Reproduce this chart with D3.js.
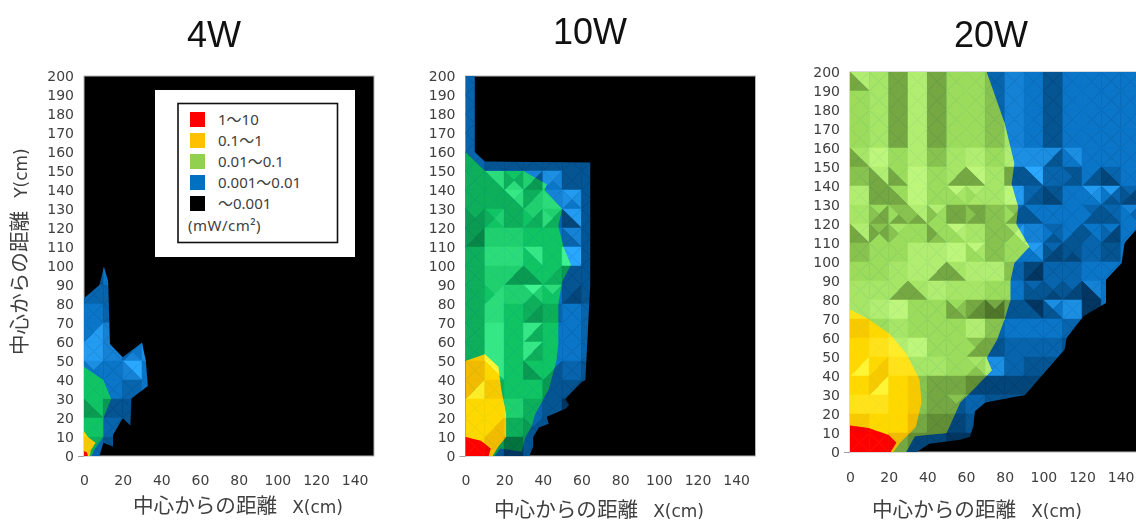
<!DOCTYPE html>
<html><head><meta charset="utf-8">
<script src="https://cdn.jsdelivr.net/npm/d3@7/dist/d3.min.js"></script>
<style>
html,body{margin:0;padding:0;background:#fff;overflow:hidden}
svg{display:block;filter:blur(0.4px)}
text{fill:#404040;font-family:"Noto Sans","Noto Sans CJK JP",sans-serif}
</style></head><body>
<svg id="c" width="1136" height="522"></svg>
<script>
// ---------- data (cm, mW/cm²) ----------
const xTicks = [0,20,40,60,80,100,120,140];
const yTicks = d3.range(0,201,10);
const legendLabels = ["1～10","0.1～1","0.01～0.1","0.001～0.01","～0.001"];
const legendColors = ["#ff0000","#ffc000","#92d050","#0070c0","#000000"];
const unitLabel = "(mW/cm²)";
const xTitle = "中心からの距離", xUnit = "X(cm)", yUnit = "Y(cm)";

// contour outlines
const blue4W = [[0,0],[0,83],[8,90],[10.3,99.6],[12.5,92],[13.4,59],[20,52],[30,59.6],[32,50],[33,36.8],[24.5,30.3],[24,16],[20,20],[15,11],[15,5],[10,7],[8,0]];
const green4W = [[0,0],[0,47],[10,40],[14,30],[10,20],[10,10],[5,3],[4,0]];
const yellow4W = [[0,0],[0,13],[2,10],[6,7],[3.5,3],[3,0]];
const red4W = [[0,0],[0,2.5],[1.5,2],[2,0]];

const blue10W = [[0,0],[0,200],[4.8,200],[4.8,160],[10,155],[64.5,154.5],[64.5,90],[63,60],[62,40],[60,39],[51.5,30],[53.6,27],[52,25],[42,20.7],[43,17],[38,15],[35,10],[35,5],[33,0]];
const green10W = [[0,0],[0,160],[10,150],[30,150],[42,143],[41,140],[50,130],[48,121],[50.7,110],[54.5,100.5],[50,92],[48,80],[48,59],[47,50],[43,35],[36,22],[34,15],[31,10],[29,2.3],[18,4],[15,0]];
const yellow10W = [[0,0],[0,50],[10,53.5],[17,47],[18.5,35],[21,22],[21,10],[17,5],[14,0]];
const red10W = [[0,0],[0,10],[8,8],[13,4],[12,0]];

const blue20W = [[0,0],[0,200],[150,200],[150,120],[148,117],[142,110],[140.5,99.5],[132.4,90.7],[132.4,78.4],[120.7,71.4],[112,60],[111,54],[90.5,30],[70,26],[64.6,21.4],[63.8,13.5],[62,8],[57,6.5],[41,4.4],[34.5,0]];
const green20W = [[0,0],[0,200],[70.7,200],[80,173],[85,152],[83.6,141],[87,129],[86,120],[92.8,108],[85,99.5],[83,90],[83,80],[80,70],[76,59],[70.7,49.6],[73.4,43],[64,33],[57,26],[50,10],[33.6,8.3],[29,0]];
const yellow20W = [[0,0],[0,75],[9.5,70],[20.7,62],[29,52],[36,38],[37,26],[34,13],[31,10],[26,5],[22.4,0]];
const red20W = [[0,0],[0,14],[9.5,12.6],[20,9],[24,5],[21,0]];

// facet brightness per 10 cm cell, row from y=200 downward: one digit, or four digits N E S W
const shade4W = ["","","","","","","","","","",
 "3 5 5 5","4 4","5 4","5885 6","8 6 5564 7","7555 5 9966 5","5 5 4 5","5533 3 3 5","5 4 3","4 3 3"];
const shade10W = ["4","4","4","4",
 "4 3 3 3 3 3 3",
 "4 7744 5474 6336 7657 3 3",
 "4 4 8744 4664 6677 8757 3",
 "4333 5654 4 6445 6447 8822 3",
 "3223 6 6 5 5 6644 3",
 "4 7 7 8855 5 9 3",
 "4 6 6336 5533 5445 3 3",
 "4 6775 6 9646 7555 3223 3",
 "4 7 5 4334 4 5 4",
 "4 8 5 8448 5 5 4",
 "4 8 5 8448 5 5 4",
 "3 8855 5 5533 5335 4 3",
 "3773 4 5 5 3 3 3",
 "5 5 6 4 3 1 3",
 "5 5335 4 4333 3 3 3",
 "5 3 1 3 3 3 3"];
const shade20W = [
 "7733 6 3 7 3 5 5 4 6 5 3 5 5 5 5",
 "5 6 3 7 3 5 5 4 6 5 3 5 5 5 5",
 "5 6 3 7 3 5 5 4 6 5 3 5 5 5 5",
 "5 6 3 7 3 5 5 4 6 5 3 5 5 5 5",
 "6633 8 5 7 4 6 7 5 7 7 7337 7755 5 5 5",
 "4 7733 5533 8 5 6336 8833 6 3 9933 4 3334 5335 4422 5",
 "7 3 5533 8 5 8655 7665 6 8 4334 3322 5 8755 8435 4223",
 "6 5334 4435 7734 7554 3 3334 4 4335 5533 5 5 4335 4433 6455",
 "7733 4353 6554 5 5543 8755 6 4 6854 6 4435 5335 5543 5224 5",
 "4 5 5 7 7 8 8655 4 5 8755 4223 3323 4 3 5",
 "5 5 6 7 7337 6633 7 7 4 2112 4 4 5 5 5",
 "6 6 6336 6633 7 6 6 5 5 4333 4323 4223 6611 5 5",
 "6 7 8 5 5 5433 3223 3111 3 1133 7533 7 1 5 5",
 "4 5 6 5 5 5 7 4 5 5 5 4 5 5 5",
 "5 6 7 8 5 5 4335 3 4 4 4 3 5 5 5",
 "5885 5445 6 6 6 5 6545 7 4 3 3 3 5 5 5",
 "5 4884 5 4 3 3 2 2 2 2 3 3 5 5 5",
 "6 6 5 4 3 4333 4 3 3 3 3 3 5 5 5",
 "4 5 5 3 2 2 3 3 3 3 3 3 5 5 5",
 "5 5 3 2 2 1 1 1 1 1 1 1 5 5 5"];

// brightness ramps, dark / base / light
const rampBlue = ["#02284a","#0b76c8","#2aa8ff"];
const rampTeal = ["#036035","#10c464","#40f490"];
const rampLime = ["#3f5f1f","#9bdc5c","#c8ff84"];
const rampGold = ["#d89000","#ffd800","#ffff40"];
const rampRed  = ["#e00000","#ff0000","#ff0000"];

// ---------- drawing ----------
const svg = d3.select("#c");
const defs = svg.append("defs");
const tickFont = '"DejaVu Sans",sans-serif';
const titleFont = '"DejaVu Sans","Noto Sans CJK JP",sans-serif';

function drawPanel(o){
  const g = svg.append("g");
  const x = d3.scaleLinear().domain([0,150]).range([o.left,o.left+290]);
  const y = d3.scaleLinear().domain([0,200]).range([o.bottom,o.bottom-380]);
  const path = d3.line().x(d=>x(d[0])).y(d=>y(d[1])).curve(d3.curveLinearClosed);

  g.append("rect").attr("x",x(0)).attr("y",y(200)).attr("width",x(150)-x(0)).attr("height",y(0)-y(200))
    .attr("fill","#000").attr("stroke","#b4b4b4").attr("stroke-width",1);

  // facets of the surface: four triangles per cell
  const facets = [];
  o.shade.forEach((row,r)=>{
    const toks = row.trim()==="" ? [] : row.trim().split(/\s+/);
    for(let c=0;c<15;c++){
      const t = toks[c]||"5";
      const s = t.length===4 ? t.split("").map(Number) : [+t,+t,+t,+t];
      const x0=c*10,x1=x0+10,y1=200-r*10,y0=y1-10,cx=x0+5,cy=y0+5;
      facets.push({s:s[0],p:[[x0,y1],[x1,y1],[cx,cy]]});
      facets.push({s:s[1],p:[[x1,y1],[x1,y0],[cx,cy]]});
      facets.push({s:s[2],p:[[x1,y0],[x0,y0],[cx,cy]]});
      facets.push({s:s[3],p:[[x0,y0],[x0,y1],[cx,cy]]});
    }
  });

  o.bands.forEach((b,i)=>{
    const id = `clip-${o.name}-${i}`;
    defs.append("clipPath").attr("id",id).append("path").attr("d",path(b.poly));
    const col = d3.scaleLinear().domain([0,5,9]).range(b.ramp).interpolate(d3.interpolateLab);
    g.append("g").attr("clip-path",`url(#${id})`)
      .selectAll("path").data(facets).join("path")
      .attr("d",d=>path(d.p))
      .attr("fill",d=>col(d.s)).attr("stroke",d=>col(d.s)).attr("stroke-width",0.5);
  });

  // axes
  const ax = g.append("g").attr("transform",`translate(${x(0)},0)`)
    .call(d3.axisLeft(y).tickValues(yTicks).tickSize(6).tickPadding(4).tickFormat(d3.format("d")));
  ax.select(".domain").remove();
  ax.selectAll(".tick line").attr("stroke",d=>d===0?"#a0a0a0":"none");
  ax.selectAll("text").attr("font-size",14).style("fill","#404040").style("font-family",tickFont);
  const bx = g.append("g").attr("transform",`translate(0,${o.bottom})`)
    .call(d3.axisBottom(x).tickValues(xTicks).tickSize(0).tickPadding(o.xPad));
  bx.select(".domain").remove();
  bx.selectAll("text").attr("font-size",14).style("fill","#404040").style("font-family",tickFont);

  g.append("text").text(o.name).attr("x",o.titleX).attr("y",o.titleY)
    .attr("text-anchor","middle").attr("font-size",36)
    .style("font-family",'"Liberation Sans",sans-serif').style("fill","#111");

  const t = g.append("text").attr("x",o.xtX).attr("y",o.xtY).attr("font-size",20.6)
    .style("font-family",titleFont);
  t.append("tspan").text(xTitle);
  t.append("tspan").text(xUnit).attr("dx",15).attr("font-size",17);
}

drawPanel({name:"4W",left:84,bottom:456,shade:shade4W,xPad:19,titleX:214,titleY:47,xtX:133,xtY:513,
  bands:[{poly:blue4W,ramp:rampBlue},{poly:green4W,ramp:rampTeal},{poly:yellow4W,ramp:rampGold},{poly:red4W,ramp:rampRed}]});
drawPanel({name:"10W",left:465.5,bottom:456,shade:shade10W,xPad:19,titleX:590,titleY:44,xtX:494,xtY:517,
  bands:[{poly:blue10W,ramp:rampBlue},{poly:green10W,ramp:rampTeal},{poly:yellow10W,ramp:rampGold},{poly:red10W,ramp:rampRed}]});
drawPanel({name:"20W",left:850,bottom:452,shade:shade20W,xPad:20,titleX:991,titleY:47,xtX:872,xtY:517,
  bands:[{poly:blue20W,ramp:rampBlue},{poly:green20W,ramp:rampLime},{poly:yellow20W,ramp:rampGold},{poly:red20W,ramp:rampRed}]});

// y title
const yt = svg.append("text").attr("transform","translate(27,355) rotate(-90)").attr("font-size",20.6)
  .style("font-family",titleFont);
yt.append("tspan").text(xTitle);
yt.append("tspan").text(yUnit).attr("dx",13).attr("font-size",17);

// legend
const lg = svg.append("g");
lg.append("rect").attr("x",155).attr("y",90).attr("width",200).attr("height",167).attr("fill","#fff");
lg.append("rect").attr("x",178).attr("y",103.5).attr("width",159.5).attr("height",139).attr("fill","none").attr("stroke","#111").attr("stroke-width",1.6);
const ly = d3.scaleBand().domain(legendLabels).range([109.5,214.5]);
const it = lg.selectAll("g.it").data(legendLabels).join("g").attr("class","it");
it.append("rect").attr("x",190).attr("y",d=>ly(d)+2.5).attr("width",15).attr("height",15).attr("fill",(d,i)=>legendColors[i]);
it.append("text").text(d=>d).attr("x",218).attr("y",d=>ly(d)+15.5).attr("font-size",15)
  .style("font-family",'"Noto Sans","Noto Sans CJK JP",sans-serif');
lg.append("text").text(unitLabel).attr("x",188).attr("y",231).attr("font-size",15).attr("letter-spacing",0.5);
</script>
</body></html>
